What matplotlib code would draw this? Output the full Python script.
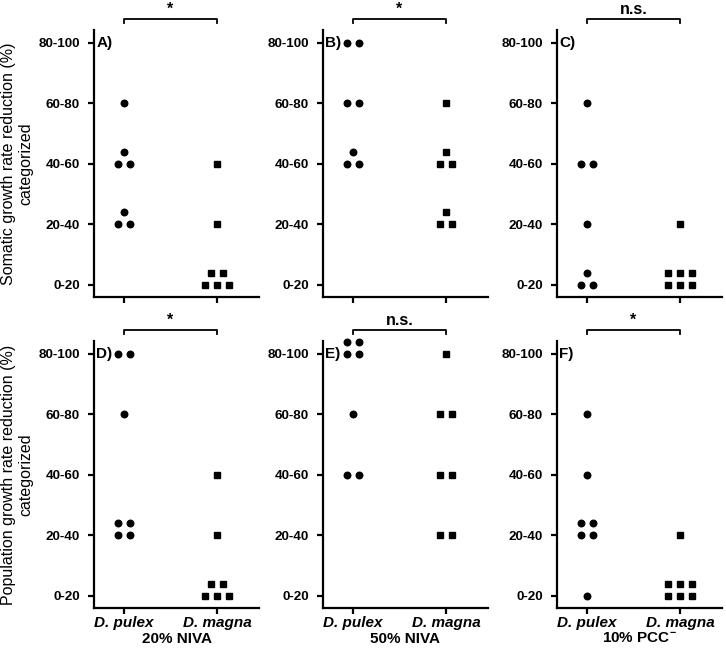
import matplotlib
matplotlib.use("Agg")
import matplotlib.pyplot as plt
import numpy as np
import math

plt.rcParams['font.family'] = ['Liberation Sans', 'DejaVu Sans']
plt.rcParams['mathtext.fontset'] = 'custom'
plt.rcParams['mathtext.rm'] = 'Liberation Sans'
plt.rcParams['mathtext.bf'] = 'Liberation Sans:bold'

# ---- data ----
species = ["D. pulex", "D. magna"]
level_labels = ["0-20", "20-40", "40-60", "60-80", "80-100"]
conditions = ["20% NIVA", "50% NIVA", r"10% PCC$^{\mathbf{-}}$"]
panel_letters = ["A)", "B)", "C)", "D)", "E)", "F)"]
significance = ["*", "*", "n.s.", "*", "n.s.", "*"]

# category index (0 = 0-20 ... 4 = 80-100) of each replicate
A_pulex = [3, 2, 2, 2, 1, 1, 1]
A_magna = [2, 1, 0, 0, 0, 0, 0]
B_pulex = [4, 4, 3, 3, 2, 2, 2]
B_magna = [3, 2, 2, 2, 1, 1, 1]
C_pulex = [3, 2, 2, 1, 0, 0, 0]
C_magna = [1, 0, 0, 0, 0, 0, 0]
D_pulex = [4, 4, 3, 1, 1, 1, 1]
D_magna = [2, 1, 0, 0, 0, 0, 0]
E_pulex = [4, 4, 4, 4, 3, 2, 2]
E_magna = [4, 3, 3, 2, 2, 1, 1]
F_pulex = [3, 2, 1, 1, 1, 1, 0]
F_magna = [1, 0, 0, 0, 0, 0, 0]

panels = [(A_pulex, A_magna), (B_pulex, B_magna), (C_pulex, C_magna),
          (D_pulex, D_magna), (E_pulex, E_magna), (F_pulex, F_magna)]

row_labels = ["Somatic growth rate reduction (%)\ncategorized",
              "Population growth rate reduction (%)\ncategorized"]

# ---- layout ----
W, H = 726, 649
fig = plt.figure(figsize=(W / 100, H / 100), dpi=100)

col_left = [94, 323, 557]
row_top = [30, 341]
ax_w, ax_h = 165, 267

DX = 0.132   # horizontal spacing of points (category units)
DY = 0.20    # vertical row offset of stacked points (level units)


def swarm(values, center):
    xs, ys = [], []
    for lev in sorted(set(values)):
        n = values.count(lev)
        if n <= 2:
            rows = [n]
        else:
            rows = [math.ceil(n / 2), n // 2]
        for r, k in enumerate(rows):
            for i in range(k):
                xs.append(center + (i - (k - 1) / 2) * DX)
                ys.append(lev + r * DY)
    return xs, ys


lw = 1.6
for idx, (pul, mag) in enumerate(panels):
    r, c = divmod(idx, 3)
    left = col_left[c] / W
    bottom = 1 - (row_top[r] + ax_h) / H
    ax = fig.add_axes([left, bottom, ax_w / W, ax_h / H])
    ax.set_xlim(-0.32, 1.45)
    ax.set_ylim(-0.205, 4.21)

    x, y = swarm(pul, 0)
    ax.plot(x, y, 'o', color='black', markersize=4.7, clip_on=False, zorder=3)
    x, y = swarm(mag, 1)
    ax.plot(x, y, 's', color='black', markersize=4.6, clip_on=False, zorder=3)

    for s in ['top', 'right']:
        ax.spines[s].set_visible(False)
    for s in ['left', 'bottom']:
        ax.spines[s].set_linewidth(lw)

    ax.set_yticks(range(len(level_labels)))
    ax.set_yticklabels(level_labels, fontsize=9.7, fontweight='bold')
    ax.set_xticks([0, 1])
    if r == 1:
        ax.set_xticklabels(species, fontsize=11, fontweight='bold', style='italic')
        ax.set_xlabel(conditions[c], fontsize=11, fontweight='bold', labelpad=1)
    else:
        ax.set_xticklabels([])
    ax.tick_params(axis='both', direction='out', length=4, width=lw, pad=6)
    ax.tick_params(axis='x', pad=2)

    # panel letter
    ax.text(0.015, 4.0, panel_letters[idx], fontsize=11, fontweight='bold',
            ha='left', va='center',
            transform=ax.get_yaxis_transform())

    # significance bracket
    yb = 4.39
    ax.plot([0, 0, 1, 1], [yb - 0.06, yb, yb, yb - 0.06], color='black',
            lw=1.3, clip_on=False)
    ax.text(0.5, yb + 0.04, significance[idx], fontsize=11.5, fontweight='bold',
            ha='center', va='bottom')

for r in range(2):
    yc = 1 - (row_top[r] + ax_h / 2) / H
    fig.text(17 / W, yc, row_labels[r], rotation=90, ha='center', va='center',
             fontsize=11.5, multialignment='center', linespacing=1.2)

fig.savefig("out.png", dpi=100)
